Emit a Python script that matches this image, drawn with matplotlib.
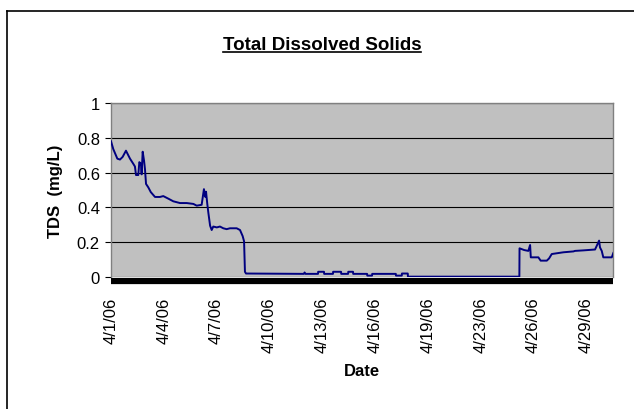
import matplotlib
matplotlib.use('Agg')
import matplotlib.pyplot as plt
from matplotlib.lines import Line2D

plt.rcParams['font.family'] = ['Liberation Sans', 'DejaVu Sans']

# category position (one unit per day-step on the axis) and TDS readings
pos = [0.00, 0.13, 0.36, 0.51, 0.66, 0.85, 0.98, 1.08, 1.27, 1.36, 1.42, 1.55,
       1.61, 1.70, 1.74, 1.80, 1.875, 1.93, 1.99, 2.12, 2.26, 2.50, 2.78, 2.97,
       3.26, 3.54, 3.92, 4.30, 4.68, 4.87, 5.15, 5.28, 5.36, 5.40, 5.47, 5.53,
       5.63, 5.72, 5.81, 6.01, 6.19, 6.38, 6.57, 6.76, 7.14, 7.33, 7.48, 7.56,
       7.61, 7.67, 10.95, 11.0, 11.05, 11.76, 11.77, 12.1, 12.11, 12.61, 12.62,
       13.07, 13.08, 13.47, 13.48, 13.75, 13.76, 14.55, 14.56, 14.83, 14.84,
       16.18, 16.19, 16.52, 16.53, 16.86, 16.87, 23.2, 23.21, 23.47, 23.71,
       23.81, 23.85, 24.28, 24.41, 24.76, 24.89, 25.04, 25.7, 26.27, 26.36,
       26.84, 27.5, 27.6, 27.73, 27.78, 27.88, 27.97, 28.45, 28.54]
tds = [0.78, 0.735, 0.68, 0.675, 0.69, 0.726, 0.70, 0.68, 0.65, 0.635, 0.586, 0.586,
       0.66, 0.65, 0.59, 0.72, 0.67, 0.62, 0.535, 0.515, 0.488, 0.46, 0.46, 0.465,
       0.45, 0.435, 0.425, 0.425, 0.42, 0.41, 0.415, 0.505, 0.46, 0.49, 0.42, 0.37,
       0.295, 0.27, 0.29, 0.285, 0.29, 0.28, 0.275, 0.28, 0.28, 0.27, 0.235, 0.205,
       0.03, 0.02, 0.018, 0.026, 0.018, 0.018, 0.03, 0.03, 0.018, 0.018, 0.03,
       0.03, 0.018, 0.018, 0.03, 0.03, 0.018, 0.018, 0.008, 0.008, 0.018,
       0.018, 0.008, 0.008, 0.02, 0.02, 0.002, 0.002, 0.165, 0.155, 0.15,
       0.184, 0.113, 0.113, 0.094, 0.094, 0.107, 0.132, 0.142, 0.147, 0.15,
       0.153, 0.158, 0.18, 0.209, 0.17, 0.15, 0.113, 0.113, 0.138]

tick_pos = [0, 3, 6, 9, 12, 15, 18, 21, 24, 27]
tick_lbl = ['4/1/06', '4/4/06', '4/7/06', '4/10/06', '4/13/06', '4/16/06',
            '4/19/06', '4/23/06', '4/26/06', '4/29/06']

fig = plt.figure(figsize=(6.34, 4.10), dpi=100)
ax = fig.add_axes([111/634, 1 - 278/410, 502/634, 174/410])
ax.set_facecolor('#C0C0C0')

# spine position first: set_position resets the ticks
for s in ['left', 'right', 'top']:
    ax.spines[s].set_color('#808080')
    ax.spines[s].set_linewidth(1)
ax.spines['bottom'].set_color('black')
ax.spines['bottom'].set_linewidth(4.5)
ax.spines['bottom'].set_capstyle('butt')
ax.spines['bottom'].set_position(('outward', 3))

ax.plot(pos, tds, color='#000080', lw=1.4, zorder=3)

ax.set_xlim(0, 28.52)
ax.set_ylim(0, 1)
ax.set_yticks([0, 0.2, 0.4, 0.6, 0.8, 1])
ax.set_yticklabels(['0', '0.2', '0.4', '0.6', '0.8', '1'])
ax.set_xticks(tick_pos)
ax.set_xticklabels(tick_lbl)
ax.tick_params(axis='x', length=0, pad=11, labelsize=12, labelrotation=90)
ax.tick_params(axis='y', length=4, width=0.8, pad=4, labelsize=12, direction='out')
ax.yaxis.grid(True, color='black', lw=0.8)
ax.set_axisbelow(True)

ax.set_xlabel('Date', fontsize=12, fontweight='bold', labelpad=8)
ax.set_ylabel('TDS  (mg/L)', fontsize=12, fontweight='bold', labelpad=10)

title = fig.text(322/634, 1 - 45/410, 'Total Dissolved Solids', ha='center', va='center',
                 fontsize=13.5, fontweight='bold')

# outer chart border (only left and top edges visible)
fig.add_artist(Line2D([7/634, 7/634], [0, 1 - 12/410], color='black', lw=1.2,
                      transform=fig.transFigure))
fig.add_artist(Line2D([7/634, 1], [1 - 12/410, 1 - 12/410], color='black', lw=1.2,
                      transform=fig.transFigure))

# underline the title
fig.canvas.draw()
bb = title.get_window_extent().transformed(fig.transFigure.inverted())
fig.add_artist(Line2D([bb.x0, bb.x1], [bb.y0 + 0.002, bb.y0 + 0.002], color='black',
                      lw=1.2, transform=fig.transFigure))

fig.savefig('out.png', dpi=100)
